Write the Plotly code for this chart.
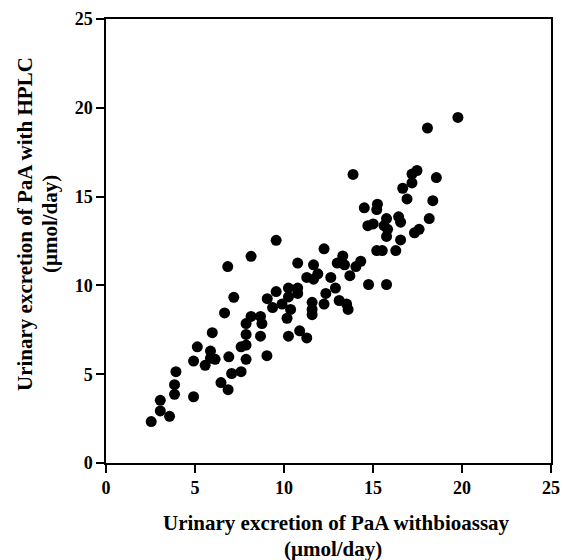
import plotly.graph_objects as go

bioassay = [2.54, 3.05, 3.05, 3.57, 3.85, 3.85, 3.93, 4.92, 4.92, 5.13, 5.57, 5.87, 6.13, 5.97, 5.87,
            6.46, 6.86, 6.66, 6.84, 6.90, 7.06, 7.18, 7.59, 7.59, 7.87, 7.87, 7.87, 7.87, 8.15, 8.15,
            8.68, 8.68, 8.76, 9.04, 9.06, 9.36, 9.56, 9.56, 9.89, 10.17, 10.25, 10.25, 10.25, 10.37,
            10.77, 10.77, 10.77, 10.88, 11.28, 11.28, 11.58, 11.58, 11.58, 11.66, 11.66, 11.90, 12.25,
            12.25, 12.35, 12.63, 12.89, 12.99, 13.10, 13.30, 13.40, 13.52, 13.60, 13.70, 13.88, 14.04,
            14.31, 14.51, 14.75, 14.71, 15.01, 15.21, 15.25, 15.21, 15.52, 15.76, 15.76, 15.76, 15.82,
            15.62, 16.28, 16.44, 16.55, 16.55, 16.67, 16.91, 17.19, 17.19, 17.47, 17.33, 17.59, 18.16,
            18.06, 18.36, 18.56, 19.77]
hplc = [2.33, 3.53, 2.93, 2.63, 4.41, 3.87, 5.14, 3.73, 5.74, 6.54, 5.50, 5.90, 5.84, 7.34, 6.30,
        4.53, 4.13, 8.45, 11.06, 5.98, 5.04, 9.33, 5.14, 6.54, 6.64, 5.84, 7.24, 7.85, 8.25, 11.64,
        8.25, 7.14, 7.85, 6.04, 9.25, 8.75, 9.65, 12.54, 8.95, 8.15, 7.14, 9.85, 9.35, 8.65,
        9.85, 9.55, 11.26, 7.44, 7.04, 10.45, 9.05, 8.65, 8.35, 11.16, 10.35, 10.65, 12.06,
        8.95, 9.55, 10.45, 9.85, 11.26, 9.15, 11.66, 11.16, 8.95, 8.65, 10.55, 16.25, 11.06,
        11.36, 14.37, 10.05, 13.36, 13.46, 14.27, 14.57, 11.96, 11.96, 10.05, 13.76, 12.76, 13.16,
        13.36, 11.96, 13.86, 13.56, 12.56, 15.47, 14.87, 16.27, 15.77, 16.47, 12.96, 13.16, 13.76,
        18.86, 14.77, 16.07, 19.46]

tick_vals = [0, 5, 10, 15, 20, 25]
tick_text = ["0", "5", "10", "15", "20", "25"]

x_title = ["Urinary excretion of PaA withbioassay", "(μmol/day)"]
y_title = ["Urinary excretion of PaA with HPLC", "(μmol/day)"]

fnt = "Liberation Serif, Times New Roman, serif"

fig = go.Figure(go.Scatter(
    x=bioassay, y=hplc, mode="markers",
    marker=dict(color="black", size=11, line=dict(width=0)),
))

axis_common = dict(
    range=[0, 25], tickvals=tick_vals, ticktext=tick_text,
    showgrid=False, zeroline=False, showline=True, linecolor="black", linewidth=1.5,
    mirror=True, ticks="outside", ticklen=8, tickwidth=1.5, tickcolor="black",
    tickfont=dict(family=fnt, size=18, color="black", weight="bold"),
    automargin=False,
)

L, R, T, B = 106, 12, 19, 97
W, H = 563, 560
pw, ph = W - L - R, H - T - B

def px_x(px):
    return (px - L) / pw

def px_y(py):
    return (H - B - py) / ph

title_font = dict(family=fnt, size=21, color="black")
annotations = [
    dict(text="<b>%s</b>" % x_title[0], x=px_x(336), y=px_y(523), xref="paper", yref="paper",
         showarrow=False, xanchor="center", yanchor="middle", font=title_font),
    dict(text="<b>%s</b>" % x_title[1], x=px_x(333), y=px_y(549), xref="paper", yref="paper",
         showarrow=False, xanchor="center", yanchor="middle", font=title_font),
    dict(text="<b>%s</b>" % y_title[0], x=px_x(25), y=px_y(224), xref="paper", yref="paper",
         showarrow=False, xanchor="center", yanchor="middle", textangle=-90, font=title_font),
    dict(text="<b>%s</b>" % y_title[1], x=px_x(50), y=px_y(224), xref="paper", yref="paper",
         showarrow=False, xanchor="center", yanchor="middle", textangle=-90, font=title_font),
]

fig.update_layout(
    width=W, height=H,
    margin=dict(l=L, r=R, t=T, b=B),
    paper_bgcolor="white", plot_bgcolor="white",
    showlegend=False,
    xaxis=axis_common,
    yaxis=axis_common,
    annotations=annotations,
)

fig.write_html("out.html", config={"displayModeBar": False},
               post_script="document.body.style.margin='0';")
